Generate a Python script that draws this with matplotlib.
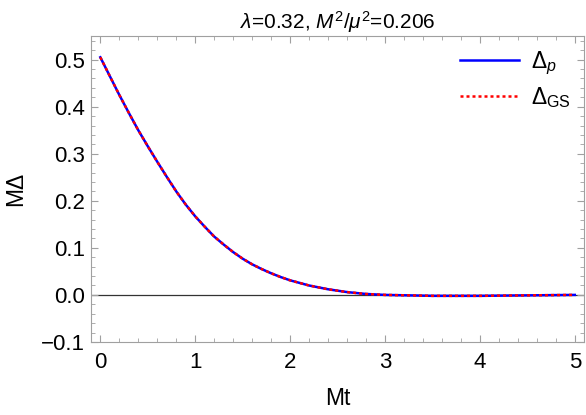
import matplotlib
matplotlib.use("Agg")
import matplotlib.pyplot as plt
from matplotlib.ticker import MultipleLocator

plt.rcParams['font.family'] = ['Liberation Sans', 'DejaVu Sans']
plt.rcParams['mathtext.fontset'] = 'custom'
plt.rcParams['mathtext.rm'] = 'Liberation Sans'
plt.rcParams['mathtext.it'] = 'Liberation Sans:italic'

# values
mt = [0.0, 0.1, 0.2, 0.3, 0.4, 0.5, 0.6, 0.7, 0.8, 0.9, 1.0, 1.1, 1.2, 1.3,
      1.4, 1.5, 1.6, 1.7, 1.8, 1.9, 2.0, 2.2, 2.4, 2.6, 2.8, 3.0, 3.5, 4.0,
      4.5, 5.0]
delta_p = [0.505, 0.465, 0.425, 0.387, 0.350, 0.316, 0.283, 0.251, 0.220,
           0.192, 0.167, 0.145, 0.124, 0.107, 0.091, 0.077, 0.065, 0.055,
           0.046, 0.038, 0.031, 0.020, 0.012, 0.006, 0.002, 0.000, -0.002,
           -0.002, -0.001, 0.000]
delta_gs = [0.505, 0.465, 0.425, 0.387, 0.350, 0.316, 0.283, 0.251, 0.220,
            0.192, 0.167, 0.145, 0.124, 0.107, 0.091, 0.077, 0.065, 0.055,
            0.046, 0.038, 0.031, 0.020, 0.012, 0.006, 0.002, 0.000, -0.002,
            -0.002, -0.001, 0.000]

fig = plt.figure(figsize=(5.86, 4.15), dpi=100)
ax = fig.add_axes([0.155, 0.176, 0.842, 0.737])

ax.axhline(0, color='#333333', lw=0.9, zorder=1)
ax.plot(mt, delta_p, color='#0000ff', lw=1.8, label=r'$\Delta_p$', zorder=2)
ax.plot(mt, delta_gs, color='#ff0000', lw=1.8, ls=(0, (1.2, 1.2)),
        label=r'$\Delta_{\mathrm{GS}}$', zorder=3)

ax.set_xlim(-0.1, 5.1)
ax.set_ylim(-0.1, 0.55)
ax.xaxis.set_major_locator(MultipleLocator(1))
ax.xaxis.set_minor_locator(MultipleLocator(0.2))
ax.yaxis.set_major_locator(MultipleLocator(0.1))
ax.yaxis.set_minor_locator(MultipleLocator(0.02))

for s in ax.spines.values():
    s.set_color('#a0a0a0')
    s.set_linewidth(0.8)
ax.tick_params(which='both', direction='in', top=True, right=True,
               color='#a0a0a0', labelsize=16)
ax.tick_params(which='major', length=5, width=0.8)
ax.tick_params(which='minor', length=3, width=0.6)
ax.tick_params(axis='x', pad=7)
ax.tick_params(axis='y', pad=4)

ax.set_xlabel('Mt', fontsize=16.5, labelpad=10)
ax.set_ylabel('MΔ', fontsize=16.5, labelpad=10)
ax.set_title(r'$\lambda$=0.32, $M^2/\mu^2$=0.206', fontsize=15, pad=5)

ax.legend(loc='upper right', frameon=False, fontsize=16.5, handlelength=2.6,
          handletextpad=0.5, borderaxespad=0.2, labelspacing=0.35)

fig.savefig('out.png', dpi=100)
